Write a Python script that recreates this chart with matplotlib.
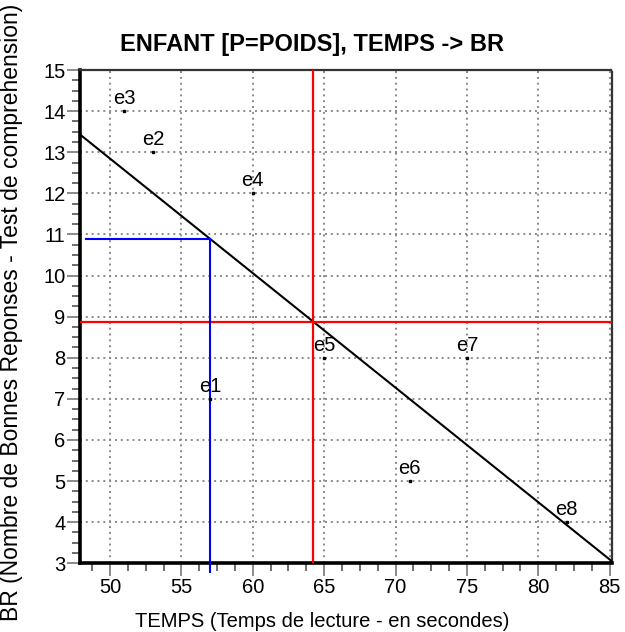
import numpy as np
import matplotlib
matplotlib.use("Agg")
import matplotlib.pyplot as plt
from matplotlib.ticker import MultipleLocator

plt.rcParams["font.family"] = ["Liberation Sans", "DejaVu Sans"]

# children: reading time (s) vs correct answers
labels = ["e1", "e2", "e3", "e4", "e5", "e6", "e7", "e8"]
temps = [57, 53, 51, 60, 65, 71, 75, 82]
br = [7, 13, 14, 12, 8, 5, 8, 4]

x = np.array(temps, dtype=float)
y = np.array(br, dtype=float)
slope, intercept = np.polyfit(x, y, 1)
xm, ym = x.mean(), y.mean()

XLIM = (47.9, 85.14)
YLIM = (3, 15)

fig = plt.figure(figsize=(6.25, 6.32), dpi=100)
ax = fig.add_axes([0.128, 0.1087, 0.8507, 0.7805])
ax.set_xlim(*XLIM)
ax.set_ylim(*YLIM)

# grid
ax.xaxis.set_major_locator(MultipleLocator(5))
ax.xaxis.set_minor_locator(MultipleLocator(1.25))
ax.yaxis.set_major_locator(MultipleLocator(1))
ax.yaxis.set_minor_locator(MultipleLocator(0.25))
ax.grid(True, which="major", color="#8a8a8a", linestyle=(0, (1, 2)), lw=1.4)
ax.set_axisbelow(True)

# regression line
xs = np.array(XLIM)
ax.plot(xs, intercept + slope * xs, color="black", lw=1.5, zorder=3)

# mean lines
ax.axvline(xm, color="red", lw=1.6, zorder=3)
ax.axhline(ym, color="red", lw=1.6, zorder=3)

# prediction for e1
x1 = temps[0]
y1 = intercept + slope * x1
ax.plot([48.32, x1], [y1, y1], color="blue", lw=1.5, zorder=3)
ax.plot([x1, x1], [y1, 2.8], color="blue", lw=1.5, zorder=3, clip_on=False)

# points
ax.plot(x, y, linestyle="none", marker="s", ms=1.6, color="black", zorder=4)
for lab, xi, yi in zip(labels, temps, br):
    ax.annotate(lab, (xi, yi), xytext=(0, 5), textcoords="offset points",
                ha="center", va="baseline", fontsize=14.5, zorder=5)

# spines
for side in ("left", "bottom"):
    ax.spines[side].set_linewidth(2.6)
    ax.spines[side].set_color("black")
for side in ("top", "right"):
    ax.spines[side].set_linewidth(1.6)
    ax.spines[side].set_color("#333333")
    ax.spines[side].set_linestyle((0, (1, 1)))

ax.tick_params(which="major", length=9.5, width=1.4, color="#8a8a8a",
               labelsize=14.5, pad=1)
ax.tick_params(which="minor", length=6, width=1.2, color="#555555")

fig.text(0.515, 1 - 627 / 632, "TEMPS (Temps de lecture - en secondes)",
         ha="center", va="baseline", fontsize=14.5)
fig.text(0.019, 0.505,
         "BR (Nombre de Bonnes Reponses - Test de comprehension)",
         ha="center", va="center", rotation=90, fontsize=16.5)

fig.text(0.5, 0.93, "ENFANT [P=POIDS], TEMPS -> BR", ha="center",
         va="center", fontsize=17, fontweight="bold")

fig.savefig("out.png", dpi=100)
